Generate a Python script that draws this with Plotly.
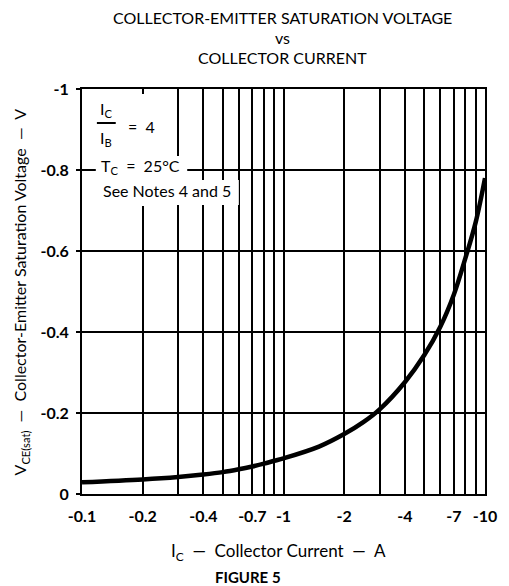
import plotly.graph_objects as go

# ---- data ----
ic_mag = [0.1, 0.2, 0.3, 0.4, 0.5, 0.6, 0.7, 0.8, 0.9, 1, 1.5, 2, 2.5, 3, 4, 5, 6, 7, 8, 9, 10]
vce_sat = [-0.029, -0.036, -0.042, -0.048, -0.054, -0.061, -0.068, -0.075, -0.082, -0.088,
           -0.117, -0.148, -0.178, -0.209, -0.276, -0.343, -0.413, -0.492, -0.583, -0.672, -0.78]

x_grid_vals = [0.1, 0.2, 0.3, 0.4, 0.5, 0.6, 0.7, 0.8, 0.9, 1, 2, 3, 4, 5, 6, 7, 8, 9, 10]
x_tick_text = ["-0.1", "-0.2", "", "-0.4", "", "", "-0.7", "", "", "-1",
               "-2", "", "-4", "", "", "-7", "", "", "-10"]
y_tick_vals = [0, -0.2, -0.4, -0.6, -0.8, -1]
y_tick_text = ["0", "-0.2", "-0.4", "-0.6", "-0.8", "-1"]

title_lines = ["COLLECTOR-EMITTER SATURATION VOLTAGE", "vs", "COLLECTOR CURRENT"]

# the page body has an 8px default margin; work in reference pixels and shift
OFF = 8
W, H = 509 - OFF, 586 - OFF
L, R, T, B = 82, 488, 89, 494


def px(x):
    return (x - L) / (R - L)


def py(y):
    return (B - y) / (B - T)


FONT = "Lato"
fig = go.Figure()
fig.add_trace(go.Scatter(x=ic_mag, y=vce_sat, mode="lines",
                         line=dict(color="black", width=4.5, shape="spline", smoothing=1),
                         showlegend=False, hoverinfo="skip"))

fig.update_layout(
    width=W, height=H,
    margin=dict(l=L - OFF, r=509 - R, t=T - OFF, b=586 - B),
    paper_bgcolor="white", plot_bgcolor="white",
    font=dict(family=FONT, color="black"),
    showlegend=False,
)
fig.update_xaxes(type="log", range=[-1, 1], tickvals=x_grid_vals, ticktext=x_tick_text,
                 showgrid=True, gridcolor="black", gridwidth=1.5,
                 showline=True, linecolor="black", linewidth=2, mirror=True,
                 ticks="", tickfont=dict(family=FONT, size=16, weight="bold"),
                 ticklabelstandoff=7, zeroline=False)
fig.update_yaxes(range=[0, -1], tickvals=y_tick_vals, ticktext=y_tick_text,
                 showgrid=True, gridcolor="black", gridwidth=1.5,
                 showline=True, linecolor="black", linewidth=2, mirror=True,
                 ticks="outside", ticklen=4, tickcolor="black", tickwidth=1.5,
                 tickfont=dict(family=FONT, size=16, weight="bold"),
                 ticklabelstandoff=4, zeroline=False)

# white areas behind the in-plot notes
for (x0, y0, x1, y1) in [(96, 94, 165, 206), (96, 156, 188, 180), (96, 180, 240, 205)]:
    fig.add_shape(type="rect", xref="paper", yref="paper",
                  x0=px(x0), x1=px(x1), y0=py(y1), y1=py(y0),
                  fillcolor="white", line=dict(width=0), layer="above")

# fraction bar
fig.add_shape(type="line", xref="paper", yref="paper",
              x0=px(97), x1=px(116), y0=py(123), y1=py(123),
              line=dict(color="black", width=2), layer="above")

ann = []
for txt, y in zip(title_lines, [18, 38, 58]):
    ann.append(dict(text=txt, x=px(284), y=py(y), size=16, xa="center"))
ann += [
    dict(text="I<sub>C</sub>", x=px(98), y=py(110), size=16, xa="left"),
    dict(text="I<sub>B</sub>", x=px(98), y=py(138), size=16, xa="left"),
    dict(text="=  4", x=px(126), y=py(126), size=16, xa="left"),
    dict(text="T<sub>C</sub>  =  25°C", x=px(99), y=py(167), size=16, xa="left"),
    dict(text="See Notes 4 and 5", x=px(101), y=py(190), size=16, xa="left"),
    dict(text="I<sub>C</sub>  —  Collector Current  —  A", x=px(280), y=py(552), size=17, xa="center"),
    dict(text="<b>FIGURE 5</b>", x=px(249), y=py(577), size=15, xa="center"),
]
for a in ann:
    fig.add_annotation(text=a["text"], x=a["x"], y=a["y"], xref="paper", yref="paper",
                       showarrow=False, xanchor=a["xa"], yanchor="middle",
                       font=dict(family=FONT, size=a["size"], color="black"))

fig.add_annotation(text="V<sub>CE(sat)</sub>  —  Collector-Emitter Saturation Voltage  —  V",
                   x=px(20), y=py(292), xref="paper", yref="paper", showarrow=False,
                   textangle=-90, xanchor="center", yanchor="middle",
                   font=dict(family=FONT, size=16, color="black"))

fig.write_html("out.html")
